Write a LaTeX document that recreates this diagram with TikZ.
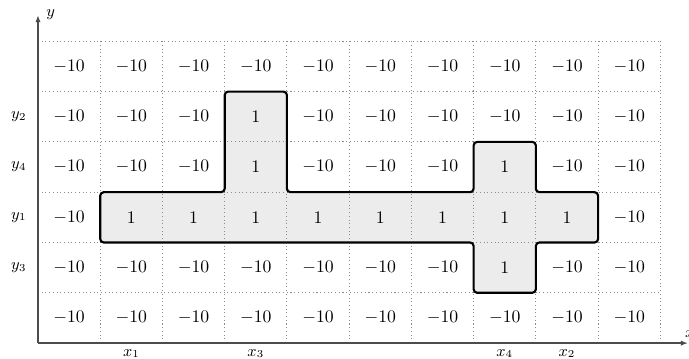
\documentclass[tikz,border=0pt]{standalone}
\usetikzlibrary{arrows.meta}
\begin{document}
\begin{tikzpicture}[x=1.237cm,y=1cm,
  gridline/.style={gray!90, line width=0.55pt, dash pattern=on 0.6pt off 1.5pt},
  axisline/.style={black!70, line width=0.8pt, -{Latex[length=4pt,width=3pt]}},
  region/.style={black, line width=1.2pt, rounded corners=2pt},
  regionfill/.style={fill=gray!15},
  cellval/.style={inner sep=0pt, font=\normalsize, text=black},
  axlabel/.style={font=\small, text=black}]
\useasboundingbox (-0.755cm,-0.298cm) rectangle (12.94cm,6.82cm);
% region fill
\fill[regionfill, rounded corners=2pt] (1,2) -- (1,3) -- (3,3) -- (3,5) -- (4,5) -- (4,3) -- (7,3) -- (7,4) -- (8,4) -- (8,3) -- (9,3) -- (9,2) -- (8,2) -- (8,1) -- (7,1) -- (7,2) -- cycle;
% dotted grid
\foreach \i in {1,...,10} \draw[gridline] (\i,0) -- (\i,6);
\foreach \j in {1,...,6} \draw[gridline] (0,\j) -- (10,\j);
% region outline
\draw[region] (1,2) -- (1,3) -- (3,3) -- (3,5) -- (4,5) -- (4,3) -- (7,3) -- (7,4) -- (8,4) -- (8,3) -- (9,3) -- (9,2) -- (8,2) -- (8,1) -- (7,1) -- (7,2) -- cycle;
% axes
\coordinate (O) at (0,0);
\coordinate (ytip) at (0,6.52);
\coordinate (xtip) at (12.92cm,0);
\draw[axisline] (O) -- (ytip) node[right, xshift=1pt, axlabel] (ylab) {$y$};
\draw[axisline] (O) -- (xtip) node[anchor=south west, inner sep=0pt, xshift=-2pt, yshift=3pt, axlabel] (xlab) {$x$};
% cell values
\foreach \row [count=\j] in {
  {m,m,m,m,m,m,m,m,m,m},
  {m,m,m,o,m,m,m,m,m,m},
  {m,m,m,o,m,m,m,o,m,m},
  {m,o,o,o,o,o,o,o,o,m},
  {m,m,m,m,m,m,m,o,m,m},
  {m,m,m,m,m,m,m,m,m,m}} {
  \foreach \v [count=\i] in \row {
    \node[cellval] (c\i-\j) at (\i-0.5, 6.5-\j) {\if m\v $-10$\else $1$\fi};
  }
}
% row labels
\foreach \lab/\yy in {2/4.5, 4/3.5, 1/2.5, 3/1.5}
  \node[left=3pt, axlabel] (ylab\lab) at (0,\yy) {$y_{\lab}$};
% column labels
\foreach \lab/\xx in {1/1.5, 3/3.5, 4/7.5, 2/8.5}
  \node[below, axlabel] (xlab\lab) at (\xx,0) {$x_{\lab}$};
\end{tikzpicture}
\end{document}
